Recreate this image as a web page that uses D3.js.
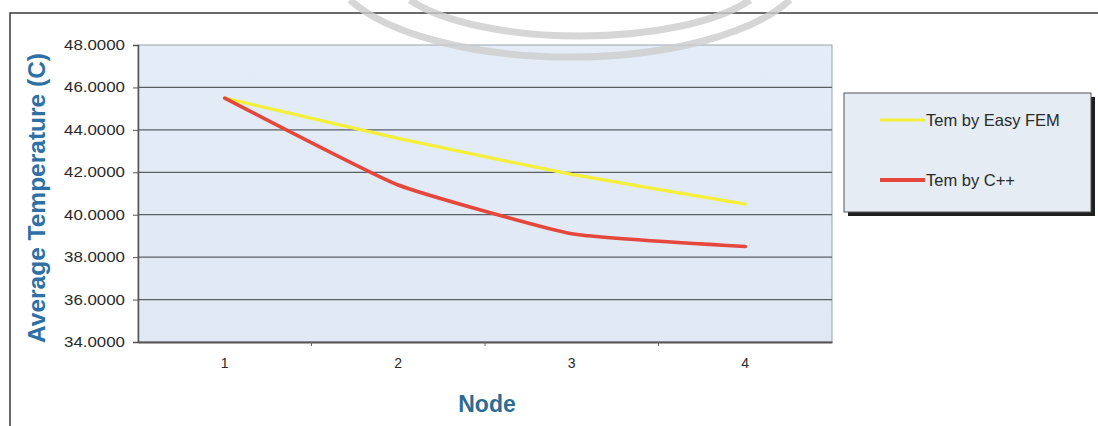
<!DOCTYPE html>
<html>
<head>
<meta charset="utf-8">
<script src="https://cdn.jsdelivr.net/npm/d3@7"></script>
<style>
  body { margin: 0; background: #fff; }
  svg { display: block; font-family: "Liberation Sans", Arial, sans-serif; }
</style>
</head>
<body>
<script>
// data
var nodes = ['1', '2', '3', '4'];
var temEasyFem = [45.5, 43.6, 41.9, 40.5];
var temCpp = [45.5, 41.4, 39.1, 38.5];
var seriesNames = ['Tem by Easy FEM', 'Tem by C++'];
var yTicks = [34, 36, 38, 40, 42, 44, 46, 48];

var width = 1098, height = 426;
var plot = { left: 138, right: 832, top: 45, bottom: 342 };

var svg = d3.select('body').append('svg')
    .attr('width', width)
    .attr('height', height);

var defs = svg.append('defs');
var grad = defs.append('linearGradient')
    .attr('id', 'bg').attr('x1', 0).attr('y1', 0).attr('x2', 0).attr('y2', 1);
grad.append('stop').attr('offset', '0%').attr('stop-color', '#e4edf7');
grad.append('stop').attr('offset', '100%').attr('stop-color', '#dfe8f3');

// outer frame (only top and left edges show)
svg.append('path')
    .attr('d', 'M10,' + height + 'V13H' + width)
    .attr('fill', 'none')
    .attr('stroke', '#3a3a3a')
    .attr('stroke-width', 1.5);

// scales
var x = d3.scaleBand().domain(nodes).range([plot.left, plot.right]);
var y = d3.scaleLinear().domain([34, 48]).range([plot.bottom, plot.top]);

// plot area
svg.append('rect')
    .attr('x', plot.left).attr('y', plot.top)
    .attr('width', plot.right - plot.left)
    .attr('height', plot.bottom - plot.top)
    .attr('fill', 'url(#bg)')
    .attr('stroke', '#9aa3ad')
    .attr('stroke-width', 1);

// gridlines
svg.append('g')
  .selectAll('line')
  .data(yTicks.slice(1, -1))
  .join('line')
    .attr('x1', plot.left).attr('x2', plot.right)
    .attr('y1', function(d) { return y(d); })
    .attr('y2', function(d) { return y(d); })
    .attr('stroke', '#5a5f66')
    .attr('stroke-width', 1.2);

// y axis
var yAxis = d3.axisLeft(y)
    .tickValues(yTicks)
    .tickSize(5)
    .tickPadding(8)
    .tickFormat(d3.format('.4f'));

var gy = svg.append('g')
    .attr('transform', 'translate(' + plot.left + ',0)')
    .call(yAxis);
gy.select('.domain').attr('stroke', '#555').attr('stroke-width', 1.5);
gy.selectAll('.tick line').attr('stroke', '#555');
gy.selectAll('.tick text')
    .attr('fill', '#2a2a2a')
    .attr('font-size', 14)
    .attr('textLength', 61)
    .attr('lengthAdjust', 'spacingAndGlyphs')
    .attr('font-family', '"Liberation Sans", Arial, sans-serif');

// x axis
var xAxis = d3.axisBottom(x).tickSize(0).tickPadding(16);
var gx = svg.append('g')
    .attr('transform', 'translate(0,' + plot.bottom + ')')
    .call(xAxis);
gx.select('.domain').attr('stroke', '#555').attr('stroke-width', 1.8);
gx.selectAll('.tick text')
    .attr('fill', '#2a2a2a')
    .attr('font-size', 14)
    .attr('font-family', '"Liberation Sans", Arial, sans-serif');

// small tick marks between categories
gx.selectAll('.sep')
  .data(nodes.slice(1))
  .join('line')
    .attr('class', 'sep')
    .attr('x1', function(d) { return x(d); })
    .attr('x2', function(d) { return x(d); })
    .attr('y1', 0).attr('y2', 4)
    .attr('stroke', '#666');

// lines
var line = d3.line()
    .x(function(d, i) { return x(nodes[i]) + x.bandwidth() / 2; })
    .y(function(d) { return y(d); })
    .curve(d3.curveCardinal.tension(0.6));

svg.append('path')
    .datum(temEasyFem)
    .attr('d', line)
    .attr('fill', 'none')
    .attr('stroke', '#f4ef3a')
    .attr('stroke-width', 3.2)
    .attr('stroke-linecap', 'round');

svg.append('path')
    .datum(temCpp)
    .attr('d', line)
    .attr('fill', 'none')
    .attr('stroke', '#e5473c')
    .attr('stroke-width', 3.6)
    .attr('stroke-linecap', 'round');

// axis titles
svg.append('text')
    .attr('x', 487).attr('y', 412)
    .attr('text-anchor', 'middle')
    .attr('font-size', 23)
    .attr('font-weight', 'bold')
    .attr('fill', '#2b6c92')
    .text('Node');

svg.append('text')
    .attr('transform', 'translate(45,198) rotate(-90)')
    .attr('text-anchor', 'middle')
    .attr('font-size', 24.5)
    .attr('font-weight', 'bold')
    .attr('fill', '#2e70a5')
    .text('Average Temperature (C)');

// legend
var legend = svg.append('g');
legend.append('rect')
    .attr('x', 848).attr('y', 97)
    .attr('width', 247).attr('height', 119)
    .attr('fill', '#1e1e1e');
legend.append('rect')
    .attr('x', 844).attr('y', 93)
    .attr('width', 247).attr('height', 119)
    .attr('fill', '#e5ecf4')
    .attr('stroke', '#555')
    .attr('stroke-width', 1);

var colors = ['#f4ef3a', '#e5473c'];
var legendY = [120, 180];
seriesNames.forEach(function(name, i) {
  legend.append('line')
      .attr('x1', 880).attr('x2', 925)
      .attr('y1', legendY[i]).attr('y2', legendY[i])
      .attr('stroke', colors[i])
      .attr('stroke-width', i === 0 ? 3 : 4);
  legend.append('text')
      .attr('x', 926).attr('y', legendY[i] + 6)
      .attr('font-size', 16.5)
      .attr('fill', '#2a2a2a')
      .text(name);
});

// faint watermark arcs from the scanned page
var arcs = svg.append('g')
    .attr('fill', 'none')
    .attr('stroke', '#cdcdcd')
    .attr('stroke-width', 7)
    .attr('opacity', 0.8);
arcs.append('path').attr('d', 'M350,0 A240,95 0 0 0 790,0');
arcs.append('path').attr('d', 'M410,0 A190,65 0 0 0 750,0');
</script>
</body>
</html>
